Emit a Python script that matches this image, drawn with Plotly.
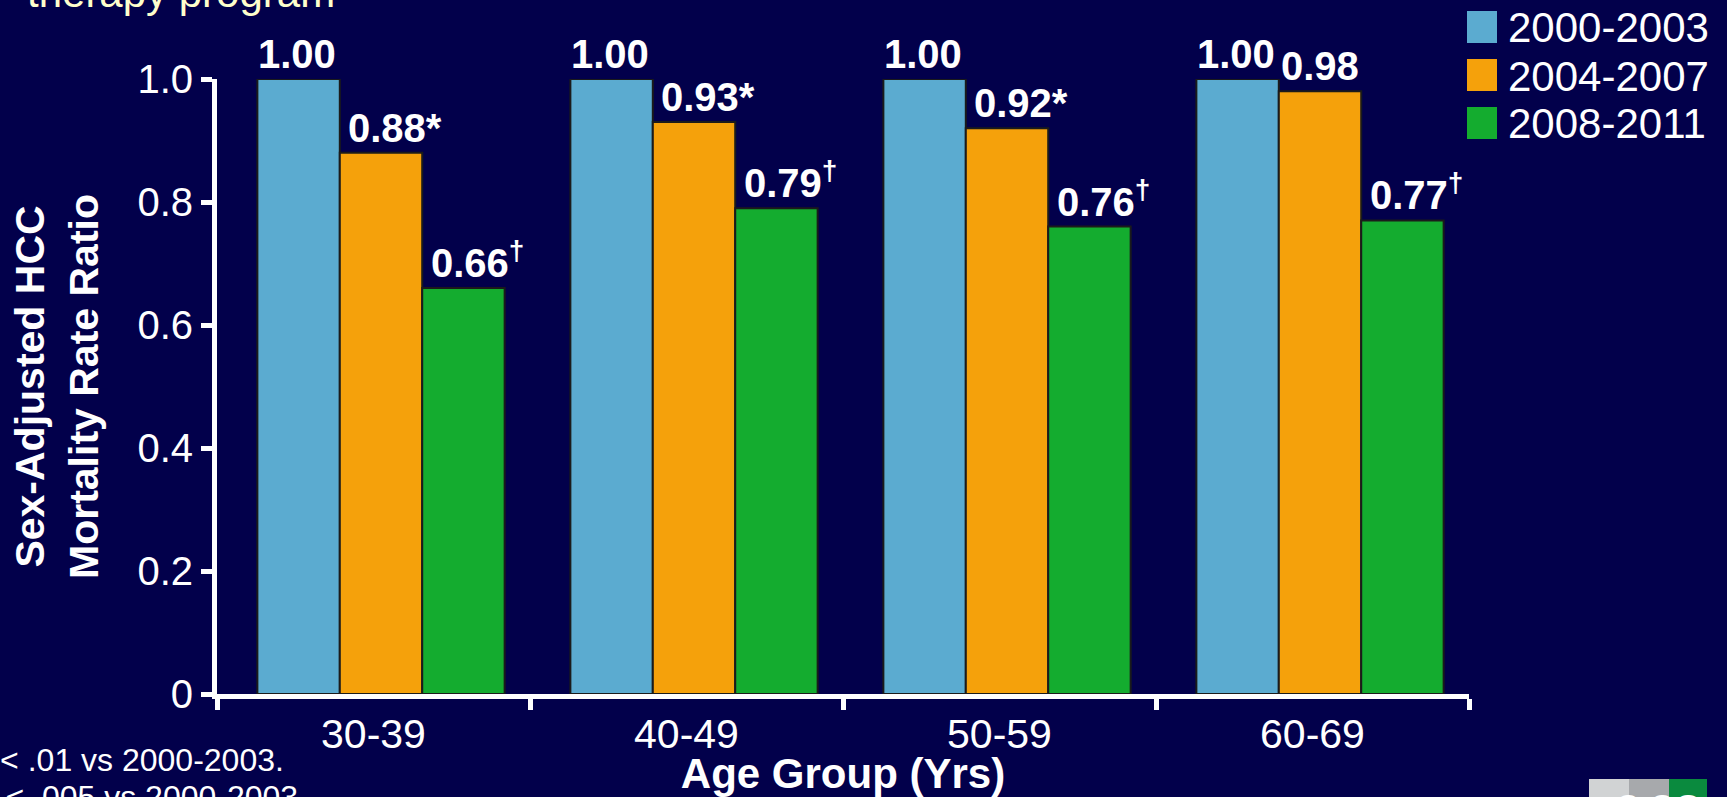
import plotly.graph_objects as go

# ---- data -------------------------------------------------------------
age_groups = ["30-39", "40-49", "50-59", "60-69"]
periods = ["2000-2003", "2004-2007", "2008-2011"]

ratio_2000_2003 = [1.00, 1.00, 1.00, 1.00]
ratio_2004_2007 = [0.88, 0.93, 0.92, 0.98]
ratio_2008_2011 = [0.66, 0.79, 0.76, 0.77]

# significance markers appended to each value label
mark_2000_2003 = ["", "", "", ""]
mark_2004_2007 = ["*", "*", "*", ""]
mark_2008_2011 = ["†", "†", "†", "†"]

y_tick_values = [0, 0.2, 0.4, 0.6, 0.8, 1.0]
y_tick_labels = ["0", "0.2", "0.4", "0.6", "0.8", "1.0"]

footnote_lines = ["*P < .01 vs 2000-2003.", "†P < .005 vs 2000-2003."]
header_text = "therapy program"

# ---- styling ----------------------------------------------------------
W, H = 1727, 797
L, R, T, B = 217, 258, 79, 103
PW, PH = W - L - R, H - T - B

BG = "#02004B"
COLORS = ["#5BABD0", "#F5A10B", "#14AC2F"]
FONT = "Liberation Sans, Arial, sans-serif"
BARGAP = 0.21
BAR_W = (1 - BARGAP) / len(periods)   # bar width in category units
GROUP_SHIFT = 0.024                    # groups sit slightly right of centre
CAT_PX = PW / len(age_groups)


def px_x(px):
    return (px - L) / PW


def px_y(py):
    return (H - B - py) / PH


series = [ratio_2000_2003, ratio_2004_2007, ratio_2008_2011]
marks = [mark_2000_2003, mark_2004_2007, mark_2008_2011]

fig = go.Figure()
for i, (name, vals, color) in enumerate(zip(periods, series, COLORS)):
    fig.add_trace(go.Bar(
        x=age_groups, y=vals, name=name,
        width=BAR_W, offset=-1.5 * BAR_W + i * BAR_W + GROUP_SHIFT,
        marker=dict(color=color, line=dict(color="#1b1b1b", width=2)),
        showlegend=False, hoverinfo="x+y+name",
    ))

annotations = []
for i, (vals, mk) in enumerate(zip(series, marks)):
    centre_px = ((i - 1) * BAR_W + GROUP_SHIFT) * CAT_PX
    for cat, v, m in zip(age_groups, vals, mk):
        suffix = ""
        if m == "†":
            suffix = "<sup>†</sup>"
        elif m:
            suffix = m
        annotations.append(dict(
            x=cat, y=v, xref="x", yref="y",
            text=f"<b>{v:.2f}{suffix}</b>",
            showarrow=False, xanchor="center", yanchor="bottom",
            xshift=centre_px + (14 if m else 0) - (2 if i == 0 else 0),
            yshift=1,
            font=dict(family=FONT, size=40, color="white"),
        ))

# legend drawn as large swatches with labels
shapes = []
for k, (name, color) in enumerate(zip(periods, COLORS)):
    cy = 27 + 48 * k
    shapes.append(dict(
        type="rect", xref="paper", yref="paper",
        x0=px_x(1467), x1=px_x(1497), y0=px_y(cy + 16), y1=px_y(cy - 16),
        fillcolor=color, line=dict(width=0), layer="above",
    ))
    annotations.append(dict(
        x=px_x(1506), y=px_y(cy + 1), xref="paper", yref="paper",
        text=name, showarrow=False, xanchor="left", yanchor="middle",
        font=dict(family=FONT, size=42, color="white"),
    ))

# header line (continuation of the slide title)
annotations.append(dict(
    x=px_x(25), y=px_y(-7), xref="paper", yref="paper",
    text=header_text, showarrow=False, xanchor="left", yanchor="middle",
    font=dict(family=FONT, size=42, color="#FFFFCC"),
))

# footnotes
for n, line in enumerate(footnote_lines):
    annotations.append(dict(
        x=px_x(-44), y=px_y(760 + 37 * n), xref="paper", yref="paper",
        text=line, showarrow=False, xanchor="left", yanchor="middle",
        font=dict(family=FONT, size=32, color="white"),
    ))

# corner logo blocks
logo_blocks = [(1589, 1629, "#D1D3D4", "c", 1628),
               (1629, 1669, "#A7A9AC", "c", 1662),
               (1669, 1707, "#0A8A3E", "o", 1688)]
for x0, x1, fill, letter, cx in logo_blocks:
    shapes.append(dict(
        type="rect", xref="paper", yref="paper",
        x0=px_x(x0), x1=px_x(x1), y0=px_y(800), y1=px_y(779),
        fillcolor=fill, line=dict(width=0), layer="above",
    ))
    annotations.append(dict(
        x=px_x(cx), y=px_y(804), xref="paper", yref="paper",
        text=f"<b>{letter}</b>", showarrow=False, xanchor="center",
        yanchor="middle",
        font=dict(family=FONT, size=46, color="white"),
    ))

fig.update_layout(
    width=W, height=H,
    margin=dict(l=L, r=R, t=T, b=B, autoexpand=False),
    paper_bgcolor=BG, plot_bgcolor=BG,
    barmode="group", bargap=BARGAP, bargroupgap=0,
    font=dict(family=FONT, color="white"),
    annotations=annotations, shapes=shapes,
    xaxis=dict(
        type="category", tickson="boundaries",
        ticks="outside", ticklen=11, tickwidth=5, tickcolor="white",
        showline=True, linecolor="white", linewidth=5,
        showgrid=False, zeroline=False,
        tickfont=dict(family=FONT, size=41, color="white"),
        title=dict(text="<b>Age Group (Yrs)</b>", standoff=2,
                   font=dict(family=FONT, size=42, color="white")),
    ),
    yaxis=dict(
        range=[0, 1.0], tickvals=y_tick_values, ticktext=y_tick_labels,
        ticks="outside", ticklen=11, tickwidth=5, tickcolor="white",
        showline=True, linecolor="white", linewidth=5,
        showgrid=False, zeroline=False,
        tickfont=dict(family=FONT, size=40, color="white"),
        title=dict(text="<b>Sex-Adjusted HCC<br>Mortality Rate Ratio</b>",
                   standoff=28,
                   font=dict(family=FONT, size=41, color="white")),
    ),
)

fig.write_html("out.html")
